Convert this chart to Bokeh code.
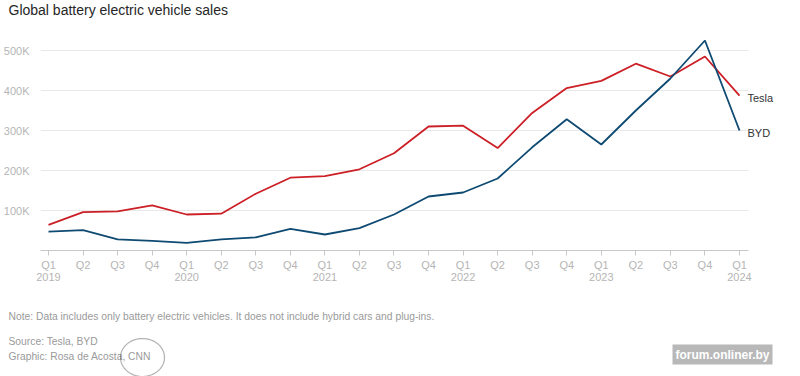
import numpy as np
from bokeh.plotting import figure
from bokeh.layouts import column
from bokeh.models import (FixedTicker, Range1d, Label, PolyAnnotation, ColumnDataSource)
from bokeh.embed import file_html
from bokeh.resources import INLINE

# ---- data (thousands of vehicles) ----
quarter_labels = ["Q1\n2019", "Q2", "Q3", "Q4",
                  "Q1\n2020", "Q2", "Q3", "Q4",
                  "Q1\n2021", "Q2", "Q3", "Q4",
                  "Q1\n2022", "Q2", "Q3", "Q4",
                  "Q1\n2023", "Q2", "Q3", "Q4",
                  "Q1\n2024"]
tesla = [64, 96, 98, 113, 90, 92, 142, 182, 186, 203, 243, 310, 312, 256, 344, 406, 424, 467, 435, 485, 387]
byd = [47, 51, 28, 24, 19, 28, 33, 54, 40, 56, 90, 135, 145, 180, 258, 328, 265, 350, 430, 525, 300]
series_names = ["Tesla", "BYD"]
y_ticks = [100, 200, 300, 400, 500]

TESLA_C = "#cc1f26"
BYD_C = "#0e4a72"
FONT = "Liberation Sans"
W = 800
X0, X1 = -0.2315, 20.26   # visible chart extent (grid / axis)


def blank_fig(h):
    f = figure(width=W, height=h, output_backend="svg", toolbar_location=None,
               x_range=Range1d(0, W), y_range=Range1d(h, 0),
               x_axis_location=None, y_axis_location=None,
               min_border=0, min_border_left=0, min_border_right=0,
               min_border_top=0, min_border_bottom=0)
    f.frame_align = False
    f.outline_line_color = None
    f.grid.grid_line_color = None
    return f


# ---- title strip ----
top = blank_fig(34)
top.add_layout(Label(x=8, y=9, text="Global battery electric vehicle sales", text_font=FONT,
                     text_font_size="14px", text_color="#262626", text_baseline="middle"))

# ---- main chart ----
xs = list(range(len(quarter_labels)))
src = ColumnDataSource(dict(x=xs, tesla=[v * 1000 for v in tesla], byd=[v * 1000 for v in byd]))

p = figure(width=W, height=256, output_backend="svg", toolbar_location=None,
           x_range=Range1d(X0, X0 + 760 / 34.55), y_range=Range1d(0, 540000),
           min_border_left=40, min_border_right=0, min_border_top=0, min_border_bottom=40)
p.outline_line_color = None

# grid lines limited to chart extent
p.ygrid.grid_line_color = None
p.xgrid.grid_line_color = None
gy = [t * 1000 for t in y_ticks]
p.segment(x0=[X0] * len(gy), x1=[X1] * len(gy), y0=gy, y1=gy, color="#e8e8e8", line_width=1)

p.line("x", "tesla", source=src, color=TESLA_C, line_width=1.8)
p.line("x", "byd", source=src, color=BYD_C, line_width=1.8)

# y axis
p.yaxis.ticker = FixedTicker(ticks=gy)
p.yaxis.major_label_overrides = {t * 1000: f"{t}K" for t in y_ticks}
p.yaxis.axis_line_color = None
p.yaxis.major_tick_line_color = None
p.yaxis.minor_tick_line_color = None
p.yaxis.major_label_text_color = "#b5b5b5"
p.yaxis.major_label_text_font = FONT
p.yaxis.major_label_text_font_size = "11px"
p.yaxis.major_label_standoff = 5

# x axis
p.xaxis.ticker = FixedTicker(ticks=xs)
p.xaxis.bounds = (X0, X1)
p.xaxis.major_label_overrides = {i: lab for i, lab in enumerate(quarter_labels)}
p.xaxis.axis_line_color = "#c8c8c8"
p.xaxis.major_tick_line_color = "#c8c8c8"
p.xaxis.major_tick_out = 5
p.xaxis.major_tick_in = 0
p.xaxis.minor_tick_line_color = None
p.xaxis.major_label_text_color = "#b5b5b5"
p.xaxis.major_label_text_font = FONT
p.xaxis.major_label_text_font_size = "11px"
p.xaxis.major_label_text_line_height = 1.05
p.xaxis.major_label_standoff = 3

# end labels
for name, vals in zip(series_names, [tesla, byd]):
    p.add_layout(Label(x=xs[-1], y=vals[-1] * 1000, x_offset=8, y_offset=-2, text=name,
                       text_font=FONT, text_font_size="11px", text_color="#333333",
                       text_baseline="middle", text_align="left"))

# ---- footer strip ----
foot = blank_fig(86)
for txt, yy in [("Note: Data includes only battery electric vehicles. It does not include hybrid cars and plug-ins.", 26),
                ("Source: Tesla, BYD", 51),
                ("Graphic: Rosa de Acosta, CNN", 66)]:
    foot.add_layout(Label(x=8, y=yy, text=txt, text_font=FONT, text_font_size="10.3px",
                          text_color="#9a9a9a", text_baseline="middle"))

# hand-drawn circle annotation around "CNN"
t = np.linspace(0, 2 * np.pi, 60)
foot.add_layout(PolyAnnotation(xs=list(142 + 22 * np.cos(t)), ys=list(67 + 19 * np.sin(t)),
                               fill_alpha=0, line_color="black", line_width=1.2))

# watermark
foot.add_layout(Label(x=672, y=64, text="forum.onliner.by", text_font=FONT, text_font_style="bold",
                      text_font_size="12px", text_color="white", text_baseline="middle",
                      background_fill_color="#9a9a9a", background_fill_alpha=0.7, padding=3))

layout = column(top, p, foot, spacing=0)
open("out.html", "w").write(file_html(layout, INLINE))
